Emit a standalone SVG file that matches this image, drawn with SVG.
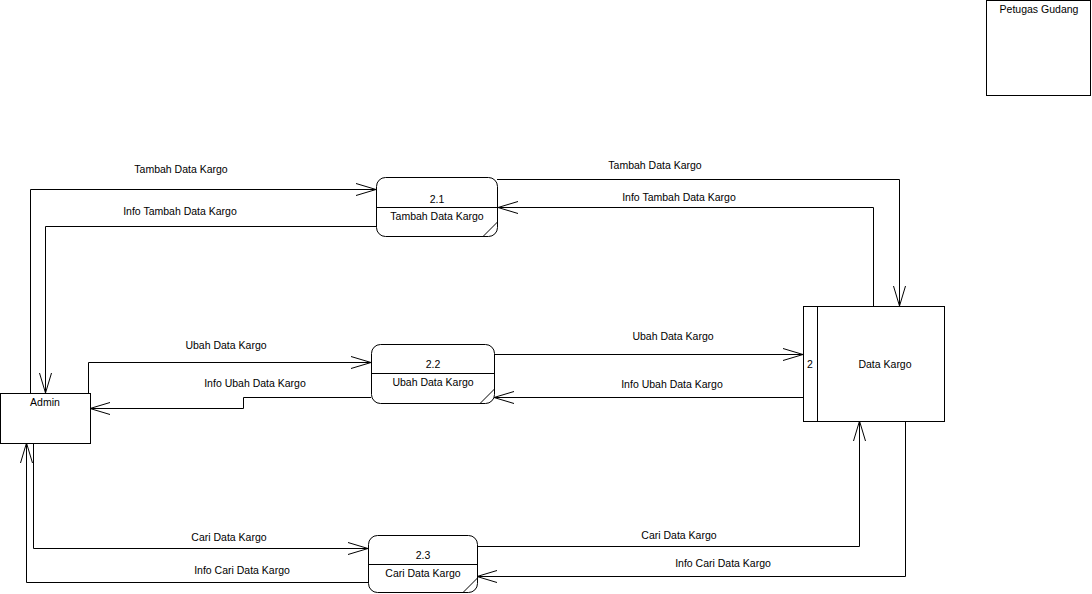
<svg xmlns="http://www.w3.org/2000/svg" width="1092" height="594" viewBox="0 0 1092 594">
<style>
.s{fill:#fff;stroke:#000;stroke-width:1}
.c{fill:none;stroke:#000;stroke-width:1}
text{font-family:"Liberation Sans",Arial,sans-serif;font-size:10.5px;fill:#000;text-anchor:middle}
</style>
<defs>
<marker id="arr" markerWidth="22" markerHeight="14" refX="21" refY="7" orient="auto" markerUnits="userSpaceOnUse" overflow="visible">
<path d="M1,1 L21,7 L1,13" fill="none" stroke="#000" stroke-width="1"/>
</marker>
</defs>
<rect width="1092" height="594" fill="#fff"/>
<g id="connectors">
<path class="c" d="M30.5,393 V189.5 H376" marker-end="url(#arr)"/>
<path class="c" d="M376,226.5 H45.5 V393" marker-end="url(#arr)"/>
<path class="c" d="M88.5,393 V362.5 H371" marker-end="url(#arr)"/>
<path class="c" d="M371,397.5 H243.5 V408.5 H90" marker-end="url(#arr)"/>
<path class="c" d="M33.5,443 V548.5 H368" marker-end="url(#arr)"/>
<path class="c" d="M368,582.5 H26.5 V443" marker-end="url(#arr)"/>
<path class="c" d="M497,179.5 H899.5 V306" marker-end="url(#arr)"/>
<path class="c" d="M873.5,306 V207.5 H498" marker-end="url(#arr)"/>
<path class="c" d="M494,354.5 H803" marker-end="url(#arr)"/>
<path class="c" d="M803,397.5 H494" marker-end="url(#arr)"/>
<path class="c" d="M477,546.5 H859.5 V421" marker-end="url(#arr)"/>
<path class="c" d="M905.5,421 V576.5 H477" marker-end="url(#arr)"/>
<text x="181" y="173">Tambah Data Kargo</text>
<text x="180" y="215">Info Tambah Data Kargo</text>
<text x="226" y="349">Ubah Data Kargo</text>
<text x="255" y="387">Info Ubah Data Kargo</text>
<text x="229" y="541">Cari Data Kargo</text>
<text x="242" y="574">Info Cari Data Kargo</text>
<text x="655" y="169">Tambah Data Kargo</text>
<text x="679" y="201">Info Tambah Data Kargo</text>
<text x="673" y="340">Ubah Data Kargo</text>
<text x="672" y="388">Info Ubah Data Kargo</text>
<text x="679" y="539">Cari Data Kargo</text>
<text x="723" y="567">Info Cari Data Kargo</text>
</g>
<g id="admin">
<rect class="s" x="0.5" y="393.5" width="90" height="50"/>
<text x="45" y="406">Admin</text>
</g>
<g id="petugas">
<rect class="s" x="986.5" y="0.5" width="104" height="95"/>
<text x="1039" y="13">Petugas Gudang</text>
</g>
<g id="p21">
<rect class="s" x="376.5" y="177.5" width="121" height="59" rx="9"/>
<line class="c" x1="376.5" y1="207.5" x2="497.5" y2="207.5"/>
<line class="c" x1="483" y1="236.5" x2="497.5" y2="222"/>
<text x="437" y="203">2.1</text>
<text x="437" y="220">Tambah Data Kargo</text>
</g>
<g id="p22">
<rect class="s" x="371.5" y="344.5" width="123" height="59" rx="9"/>
<line class="c" x1="371.5" y1="373.5" x2="494.5" y2="373.5"/>
<line class="c" x1="480" y1="403.5" x2="494.5" y2="389"/>
<text x="433" y="368">2.2</text>
<text x="433" y="386">Ubah Data Kargo</text>
</g>
<g id="p23">
<rect class="s" x="368.5" y="535.5" width="109" height="57" rx="9"/>
<line class="c" x1="368.5" y1="564.5" x2="477.5" y2="564.5"/>
<line class="c" x1="463" y1="592.5" x2="477.5" y2="578"/>
<text x="423" y="559">2.3</text>
<text x="423" y="577">Cari Data Kargo</text>
</g>
<g id="datastore">
<rect class="s" x="803.5" y="306.5" width="141" height="115"/>
<line class="c" x1="817.5" y1="306.5" x2="817.5" y2="421.5"/>
<text x="810" y="368">2</text>
<text x="885" y="368">Data Kargo</text>
</g>
</svg>
